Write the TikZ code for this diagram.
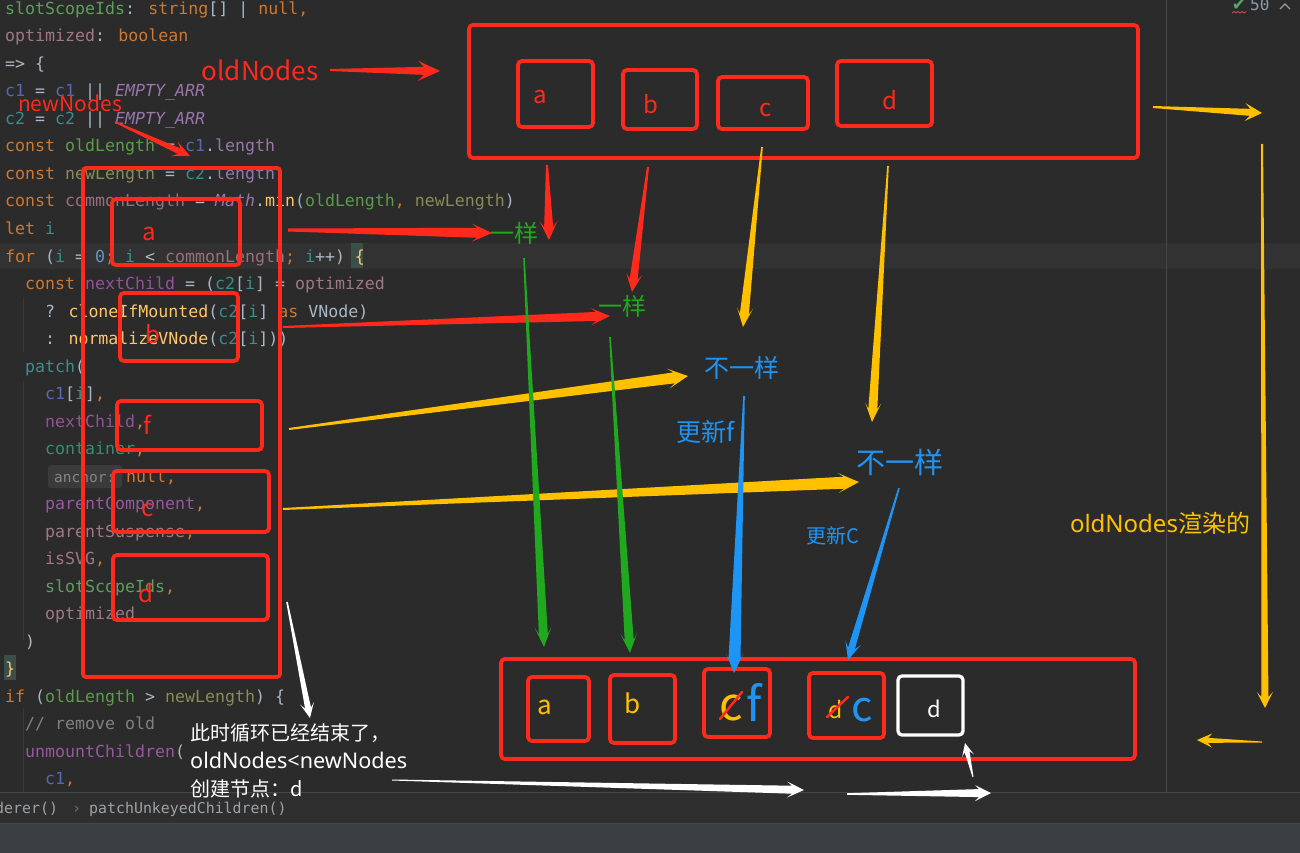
\documentclass[tikz,border=0pt]{standalone}
\usepackage{fontspec}
\usetikzlibrary{calc}
\newfontfamily\codefont{DejaVu Sans Mono}
\newfontfamily\ann{Noto Sans CJK SC}
\newfontfamily\annlat{Noto Sans}
\newfontfamily\symfont{DejaVu Sans}
\definecolor{bg}{HTML}{2B2B2B}
\definecolor{curline}{HTML}{323232}
\definecolor{dflt}{HTML}{A9B7C6}
\definecolor{kw}{HTML}{CC7832}
\definecolor{cSlot}{HTML}{5E9E5E}
\definecolor{cOpt}{HTML}{A17784}
\definecolor{cOne}{HTML}{5868B0}
\definecolor{cTwo}{HTML}{3A8C8C}
\definecolor{cConst}{HTML}{9876AA}
\definecolor{cOld}{HTML}{5C9B4B}
\definecolor{cNew}{HTML}{8C8A58}
\definecolor{cCommon}{HTML}{9A6E80}
\definecolor{cI}{HTML}{3E8E8E}
\definecolor{num}{HTML}{6897BB}
\definecolor{cNext}{HTML}{94519A}
\definecolor{fn}{HTML}{FFC66D}
\definecolor{cCont}{HTML}{3A8C70}
\definecolor{cPC}{HTML}{98589E}
\definecolor{cmt}{HTML}{808080}
\definecolor{bracebg}{HTML}{3B4F49}
\definecolor{hintbg}{HTML}{3B3B3B}
\definecolor{hint}{HTML}{858585}
\definecolor{sep}{HTML}{474747}
\definecolor{guide}{HTML}{393939}
\definecolor{crumbbg}{HTML}{2F2F30}
\definecolor{crumb}{HTML}{9FA2A5}
\definecolor{crumbsep}{HTML}{6E6E6E}
\definecolor{statusbg}{HTML}{3C3F41}
\definecolor{chkgreen}{HTML}{59A869}
\definecolor{squig}{HTML}{C75450}
\definecolor{fiftyc}{HTML}{8C9CAE}
\definecolor{chev}{HTML}{9A9A9A}
\definecolor{annred}{HTML}{FF2A1C}
\definecolor{annyel}{HTML}{FFC000}
\definecolor{anngreen}{HTML}{20A81E}
\definecolor{annblue}{HTML}{1E94F5}
% tapered arrow: color, from, to, tail half, shaft half, join dist, head len, head half
\newcommand\tarr[8]{%
  \path (#2) coordinate (tA) (#3) coordinate (tB);
  \path ($(tB)!#6!(tA)$) coordinate (tJ) ($(tB)!#7!(tA)$) coordinate (tH);
  \fill[#1] ($(tA)!#4!90:(tB)$) -- ($(tJ)!#5!90:(tB)$) -- ($(tH)!#8!90:(tB)$) -- (tB)
    -- ($(tH)!#8!-90:(tB)$) -- ($(tJ)!#5!-90:(tB)$) -- ($(tA)!#4!-90:(tB)$) -- cycle;}
\tikzset{
  code/.style={anchor=base west, inner sep=0pt, text=dflt, font={\codefont\fontsize{16.6}{18}\selectfont}},
  crumbtxt/.style={anchor=base west, inner sep=0pt, font={\codefont\fontsize{14.9}{16}\selectfont}},
  redbox/.style={draw=annred, line width=3.8pt, rounded corners=4pt, inner sep=0pt},
  whitebox/.style={draw=white, line width=3.3pt, rounded corners=4pt, inner sep=0pt},
  lbl/.style={inner sep=0pt, font={\ann\fontsize{#1}{#1}\selectfont}},
  lbl/.default=24
}
\begin{document}
\begin{tikzpicture}[x=1pt,y=-1pt]
\useasboundingbox (0,0) rectangle (1300,853);
% ---------- editor chrome ----------
\fill[bg] (0,0) rectangle (1300,853);
\fill[curline] (0,243) rectangle (1300,269);
\draw[sep, line width=1pt] (1166,0) -- (1166,792);
\fill[crumbbg] (0,792) rectangle (1300,823);
\draw[sep, line width=1pt] (0,792.5) -- (1300,792.5);
\fill[statusbg] (0,823) rectangle (1300,853);
\draw[sep, line width=1pt] (0,823) -- (1300,823);
\fill[bracebg] (351,243) rectangle (363,268);
\fill[bracebg] (4,655) rectangle (16,680);
\fill[hintbg, rounded corners=3pt] (48,465) rectangle (122,488);
\draw[guide, line width=1pt] (23,297) -- (23,352) (23,382) -- (23,640) (23,708) -- (23,792);
% ---------- code ----------
\node[code] (l1) at (5,14.5) {\textcolor{cSlot}{slotScopeIds}: \textcolor{kw}{string}[] | \textcolor{kw}{null,}};
\node[code] (l2) at (5,42) {\textcolor{cOpt}{optimized}: \textcolor{kw}{boolean}};
\node[code] (l3) at (5,69.5) {=> \{};
\node[code] (l4) at (5,97) {\textcolor{cOne}{c1} = \textcolor{cOne}{c1} || \textcolor{cConst}{\itshape EMPTY\_ARR}};
\node[code] (l5) at (5,124.5) {\textcolor{cTwo}{c2} = \textcolor{cTwo}{c2} || \textcolor{cConst}{\itshape EMPTY\_ARR}};
\node[code] (l6) at (5,152) {\textcolor{kw}{const} \textcolor{cOld}{oldLength} = \textcolor{cOne}{c1}.\textcolor{cConst}{length}};
\node[code] (l7) at (5,179.5) {\textcolor{kw}{const} \textcolor{cNew}{newLength} = \textcolor{cTwo}{c2}.\textcolor{cConst}{length}};
\node[code] (l8) at (5,207) {\textcolor{kw}{const} \textcolor{cCommon}{commonLength} = \textcolor{cConst}{\itshape Math}.\textcolor{fn}{min}(\textcolor{cOld}{oldLength}\textcolor{kw}{,} \textcolor{cNew}{newLength})};
\node[code] (l9) at (5,234.5) {\textcolor{kw}{let} \textcolor{cI}{i}};
\node[code] (l10) at (5,262) {\textcolor{kw}{for} (\textcolor{cI}{i} = \textcolor{num}{0}\textcolor{kw}{;} \textcolor{cI}{i} < \textcolor{cCommon}{commonLength}\textcolor{kw}{;} \textcolor{cI}{i}++) \textcolor{fn}{\{}};
\node[code] (l11) at (25,289.5) {\textcolor{kw}{const} \textcolor{cNext}{nextChild} = (\textcolor{cTwo}{c2}[\textcolor{cI}{i}] = \textcolor{cOpt}{optimized}};
\node[code] (l12) at (45,317) {? \textcolor{fn}{cloneIfMounted}(\textcolor{cTwo}{c2}[\textcolor{cI}{i}] \textcolor{kw}{as} VNode)};
\node[code] (l13) at (45,344.5) {: \textcolor{fn}{normalizeVNode}(\textcolor{cTwo}{c2}[\textcolor{cI}{i}]))};
\node[code] (l14) at (25,372) {\textcolor{cI}{patch}(};
\node[code] (l15) at (45,399.5) {\textcolor{cOne}{c1}[\textcolor{cI}{i}]\textcolor{kw}{,}};
\node[code] (l16) at (45,427) {\textcolor{cNext}{nextChild}\textcolor{kw}{,}};
\node[code] (l17) at (45,454.5) {\textcolor{cCont}{container}\textcolor{kw}{,}};
\node[code, text=hint, font={\codefont\fontsize{14.5}{16}\selectfont}] (l18h) at (54,482) {anchor:};
\node[code] (l18) at (126,482) {\textcolor{kw}{null,}};
\node[code] (l19) at (45,509.5) {\textcolor{cPC}{parentComponent}\textcolor{kw}{,}};
\node[code] (l20) at (45,537) {\textcolor{cOpt}{parentSuspense}\textcolor{kw}{,}};
\node[code] (l21) at (45,564.5) {\textcolor{cOpt}{isSVG}\textcolor{kw}{,}};
\node[code] (l22) at (45,592) {\textcolor{cSlot}{slotScopeIds}\textcolor{kw}{,}};
\node[code] (l23) at (45,619.5) {\textcolor{cOpt}{optimized}};
\node[code] (l24) at (25,647) {)};
\node[code] (l25) at (5,674.5) {\textcolor{fn}{\}}};
\node[code] (l26) at (5,702) {\textcolor{kw}{if} (\textcolor{cOld}{oldLength} > \textcolor{cNew}{newLength}) \{};
\node[code] (l27) at (25,729.5) {\textcolor{cmt}{// remove old}};
\node[code] (l28) at (25,757) {\textcolor{cPC}{unmountChildren}(};
\node[code] (l29) at (45,784.5) {\textcolor{cOne}{c1}\textcolor{kw}{,}};
% breadcrumb
\node[crumbtxt, text=crumb] (crumb1) at (-5,813) {derer()};
\node[crumbtxt, text=crumbsep] (crumbs) at (72,813) {›};
\node[crumbtxt, text=crumb] (crumb2) at (89,813) {patchUnkeyedChildren()};
% top right indicators
\node[inner sep=0pt, text=chkgreen, font={\symfont\fontsize{17}{17}\selectfont}] (chk) at (1239,5) {✔};
\draw[squig, line width=0.8pt] (1232,13) -- (1234,11.5) -- (1236,13) -- (1238,11.5) -- (1240,13) -- (1242,11.5) -- (1244,13) -- (1246,11.5);
\node[code, text=fiftyc, font={\codefont\fontsize{16}{16}\selectfont}] (fifty) at (1250,11) {50};
\draw[chev, line width=1.3pt] (1280,9) -- (1285,4) -- (1290,9);

% ---------- annotation boxes ----------
\node[redbox, minimum width=669pt, minimum height=133pt] (oldBox) at (803.5,91.5) {};
\node[redbox, minimum width=75pt, minimum height=66pt] (oA) at (555.5,94) {};
\node[redbox, minimum width=74pt, minimum height=59pt] (oB) at (660,99.5) {};
\node[redbox, minimum width=90pt, minimum height=52pt] (oC) at (763,103) {};
\node[redbox, minimum width=95pt, minimum height=65pt] (oD) at (884.5,93.5) {};
\node[lbl, text=annred] (oAt) at (540,97) {a};
\node[lbl, text=annred] (oBt) at (651,104) {b};
\node[lbl, text=annred] (oCt) at (766,110) {c};
\node[lbl, text=annred] (oDt) at (890,100) {d};

\node[redbox, minimum width=197pt, minimum height=509pt, rounded corners=3pt] (newBox) at (181.5,422.5) {};
\node[redbox, minimum width=128pt, minimum height=66pt] (nA) at (176,232) {};
\node[redbox, minimum width=118pt, minimum height=68pt] (nB) at (179,327) {};
\node[redbox, minimum width=145pt, minimum height=49pt] (nF) at (189.5,425.5) {};
\node[redbox, minimum width=156pt, minimum height=61pt] (nC) at (191,501.5) {};
\node[redbox, minimum width=155pt, minimum height=65pt] (nD) at (190.5,587.5) {};
\node[lbl, text=annred] (nAt) at (149,234) {a};
\node[lbl, text=annred] (nBt) at (153,334) {b};
\node[lbl, text=annred] (nFt) at (147,425) {f};
\node[lbl, text=annred] (nCt) at (148,510) {c};
\node[lbl, text=annred] (nDt) at (146,593) {d};

\node[redbox, minimum width=634pt, minimum height=100pt] (resBox) at (818,709) {};
\node[redbox, minimum width=61pt, minimum height=64pt] (rA) at (558.5,709) {};
\node[redbox, minimum width=65pt, minimum height=68pt] (rB) at (642.5,709) {};
\node[redbox, minimum width=66pt, minimum height=68pt] (rC) at (737,703) {};
\node[redbox, minimum width=75pt, minimum height=65pt] (rD) at (846.5,705.5) {};
\node[whitebox, minimum width=65pt, minimum height=59pt] (rE) at (930.5,705.5) {};
\node[lbl=26, text=annyel] (rAt) at (545,707) {a};
\node[lbl=26, text=annyel] (rBt) at (633,703) {b};
\node[lbl=46, text=annyel] (rCold) at (731,708) {c};
\node[lbl=47, text=annblue] (rCnew) at (754,702) {f};
\node[lbl=23, text=annyel] (rDold) at (836,709) {d};
\node[lbl=42, text=annblue] (rDnew) at (862,710) {c};
\node[lbl=22, text=white] (rEt) at (934,709) {d};
\draw[annred, line width=2.5pt, line cap=round] (720,719) -- (742,692);
\draw[annred, line width=2.5pt, line cap=round] (827,717) -- (848,697);

% ---------- annotation texts ----------
\node[lbl=26, text=annred] (oldTxt) at (260,70) {oldNodes};
\node[lbl=21, text=annred] (newTxt) at (70,103) {newNodes};
\node[lbl=24, text=anngreen] (same1) at (514,233) {一样};
\node[lbl=24, text=anngreen] (same2) at (622,306) {一样};
\node[lbl=25, text=annblue] (diff1) at (742,368) {不一样};
\node[lbl=25, text=annblue] (upd1) at (706,432) {更新f};
\node[lbl=29, text=annblue] (diff2) at (900,462) {不一样};
\node[lbl=20, text=annblue] (upd2) at (833,536) {更新C};
\node[lbl=24, text=annyel] (oldRend) at (1160,523) {{\annlat oldNodes}渲染的};
\node[anchor=west, align=left, inner sep=0pt, text=white, font={\ann\fontsize{20}{28}\selectfont}] (endTxt) at (190,761) {此时循环已经结束了，\\{\annlat\fontsize{21.6}{28}\selectfont oldNodes<newNodes}\\创建节点：d};

% ---------- arrows ----------
\coordinate (oldTxtE) at (330,70);   \coordinate (oldBoxW) at (440,71);
\coordinate (newTxtS) at (115,122);  \coordinate (lenTip) at (190,156);
\coordinate (nAE) at (288,230);      \coordinate (same1W) at (492,233);
\coordinate (oAS) at (547,165);      \coordinate (same1N) at (549,240);
\coordinate (oBS) at (648,167);      \coordinate (same2N) at (632,292);
\coordinate (nBE) at (283,327);      \coordinate (same2W) at (610,316);
\coordinate (oCS) at (762,147);      \coordinate (diff1N) at (743,327);
\coordinate (oDS) at (888,166);      \coordinate (diff2N) at (872,422);
\coordinate (nFE) at (289,429);      \coordinate (diff1W) at (688,376);
\coordinate (nCE) at (283,509);      \coordinate (diff2W) at (859,482);
\coordinate (rt1) at (1153,107);     \coordinate (rt2) at (1262,113);
\coordinate (rv1) at (1262,144);     \coordinate (rv2) at (1265,708);
\coordinate (rb1) at (1262,742);     \coordinate (rb2) at (1197,740);
\coordinate (g1s) at (524,258);      \coordinate (rAN) at (544,647);
\coordinate (g2s) at (610,337);      \coordinate (rBN) at (630,653);
\coordinate (b1s) at (744,396);      \coordinate (rCN) at (734,673);
\coordinate (b2s) at (899,488);      \coordinate (rDN) at (848,660);
\coordinate (w1s) at (287,602);      \coordinate (w1e) at (310,718);
\coordinate (w2s) at (392,780);      \coordinate (w2e) at (804,790);
\coordinate (w3s) at (847,794);      \coordinate (w3e) at (991,793);
\coordinate (w4s) at (973,777);      \coordinate (rES) at (965,743);

\tarr{annred}{oldTxtE}{oldBoxW}{1pt}{4pt}{16pt}{22pt}{10pt}
\tarr{annred}{newTxtS}{lenTip}{0.8pt}{3pt}{12pt}{17pt}{8pt}
\tarr{annred}{nAE}{same1W}{1.5pt}{5pt}{15pt}{20pt}{9pt}
\tarr{annred}{oAS}{same1N}{1pt}{4.5pt}{13pt}{19pt}{9pt}
\tarr{annred}{oBS}{same2N}{1pt}{4pt}{13pt}{18pt}{8pt}
\tarr{annred}{nBE}{same2W}{1pt}{4.5pt}{14pt}{19pt}{8.5pt}

\tarr{annyel}{oCS}{diff1N}{0.8pt}{4.5pt}{13pt}{19pt}{8pt}
\tarr{annyel}{oDS}{diff2N}{0.8pt}{4.5pt}{13pt}{19pt}{8pt}
\tarr{annyel}{nFE}{diff1W}{1pt}{5.5pt}{14pt}{20pt}{10pt}
\tarr{annyel}{nCE}{diff2W}{1pt}{6pt}{15pt}{21pt}{10pt}
\tarr{annyel}{rt1}{rt2}{1pt}{3.5pt}{12pt}{17pt}{9pt}
\tarr{annyel}{rv1}{rv2}{1pt}{3.5pt}{11pt}{16pt}{8pt}
\tarr{annyel}{rb1}{rb2}{0.5pt}{2.5pt}{11pt}{15pt}{7pt}

\tarr{anngreen}{g1s}{rAN}{0.8pt}{4.5pt}{13pt}{20pt}{8.5pt}
\tarr{anngreen}{g2s}{rBN}{0.8pt}{4.5pt}{13pt}{20pt}{8.5pt}

\tarr{annblue}{b1s}{rCN}{0.8pt}{6pt}{14pt}{20pt}{9pt}
\tarr{annblue}{b2s}{rDN}{0.8pt}{3.5pt}{12pt}{18pt}{8pt}

\tarr{white}{w1s}{w1e}{0.8pt}{3pt}{10pt}{15pt}{7pt}
\tarr{white}{w2s}{w2e}{0.5pt}{4pt}{12pt}{17pt}{8pt}
\tarr{white}{w3s}{w3e}{0.8pt}{4pt}{12pt}{16pt}{8pt}
\tarr{white}{w4s}{rES}{0.5pt}{2.5pt}{9pt}{13pt}{6pt}
\end{tikzpicture}
\end{document}
